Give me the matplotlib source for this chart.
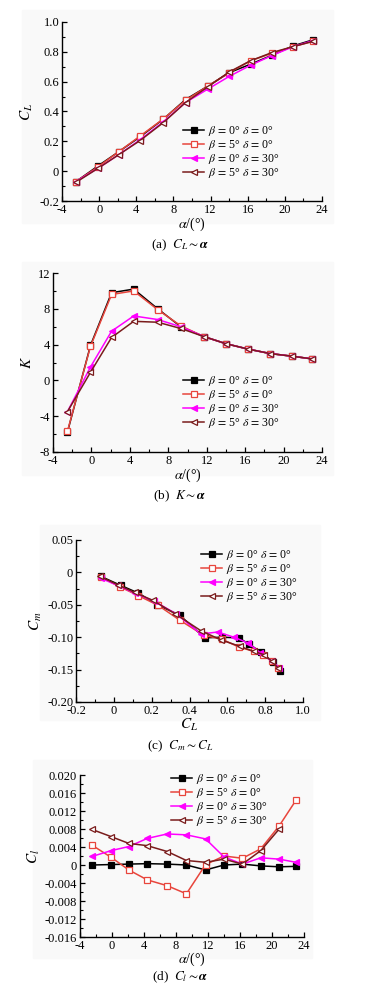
import matplotlib
matplotlib.use('Agg')
import matplotlib.pyplot as plt
from matplotlib.ticker import MultipleLocator, FuncFormatter
from matplotlib.patches import Rectangle
import numpy as np

plt.rcParams['font.family'] = ['Liberation Serif', 'DejaVu Serif']
plt.rcParams['mathtext.fontset'] = 'stix'
plt.rcParams['font.size'] = 9

# angle of attack (deg)
alpha = [-2.5, -0.1, 2.1, 4.4, 6.9, 9.3, 11.7, 14.0, 16.3, 18.6, 20.9, 23.0]

labels = [r'$\beta\,=\,$0° $\delta\,=\,$0°', r'$\beta\,=\,$5° $\delta\,=\,$0°',
          r'$\beta\,=\,$0° $\delta\,=\,$30°', r'$\beta\,=\,$5° $\delta\,=\,$30°']

# lift coefficient
cl_b0d0 = [-0.07, 0.036, 0.13, 0.23, 0.348, 0.48, 0.57, 0.66, 0.717, 0.777, 0.84, 0.88]
cl_b5d0 = [-0.07, 0.03, 0.13, 0.235, 0.35, 0.475, 0.57, 0.66, 0.74, 0.79, 0.835, 0.87]
cl_b0d30 = [-0.07, 0.02, 0.11, 0.21, 0.33, 0.46, 0.55, 0.635, 0.71, 0.775, 0.835, 0.875]
cl_b5d30 = [-0.075, 0.02, 0.11, 0.205, 0.325, 0.46, 0.565, 0.665, 0.74, 0.795, 0.835, 0.87]

# lift-drag ratio
k_b0d0 = [-5.8, 3.9, 9.8, 10.2, 8.0, 6.0, 4.9, 4.1, 3.5, 3.0, 2.7, 2.4]
k_b5d0 = [-5.7, 3.8, 9.6, 10.0, 7.9, 6.1, 4.9, 4.1, 3.5, 3.0, 2.7, 2.4]
k_b0d30 = [-3.5, 1.5, 5.5, 7.2, 6.8, 6.0, 4.9, 4.1, 3.5, 3.0, 2.7, 2.4]
k_b5d30 = [-3.5, 0.9, 4.8, 6.6, 6.5, 5.8, 4.9, 4.1, 3.5, 3.0, 2.7, 2.4]

# pitching moment
cm_b0d0 = [-0.006, -0.020, -0.032, -0.050, -0.066, -0.101, -0.100, -0.101, -0.111, -0.123, -0.138, -0.152]
cm_b5d0 = [-0.007, -0.022, -0.036, -0.051, -0.074, -0.097, -0.103, -0.115, -0.122, -0.128, -0.137, -0.148]
cm_b0d30 = [-0.009, -0.020, -0.032, -0.044, -0.064, -0.095, -0.092, -0.100, -0.109, -0.124, -0.137, -0.147]
cm_b5d30 = [-0.006, -0.019, -0.031, -0.043, -0.064, -0.090, -0.104, -0.114, -0.122, -0.127, -0.137, -0.148]

# rolling moment
roll_b0d0 = [0.0, 0.0001, 0.0002, 0.0003, 0.0002, 0.0, -0.0011, 0.0, 0.0002, -0.0002, -0.0004, -0.0003]
roll_b5d0 = [0.0044, 0.0017, -0.0011, -0.0033, -0.0046, -0.0064, 0.0001, 0.0020, 0.0015, 0.0036, 0.0087, 0.0144]
roll_b0d30 = [0.0019, 0.0032, 0.0041, 0.0059, 0.0069, 0.0067, 0.0058, 0.0018, 0.0002, 0.0016, 0.0013, 0.0006]
roll_b5d30 = [0.0079, 0.0063, 0.0048, 0.0043, 0.0030, 0.0010, 0.0006, 0.0013, 0.0002, 0.0032, 0.0080, np.nan]

styles = [
    dict(color='black', marker='s', mfc='black'),
    dict(color='#e8453c', marker='s', mfc='white'),
    dict(color='#ff00ff', marker='<', mfc='#ff00ff'),
    dict(color='#7a1c1c', marker='<', mfc='white'),
]


def fmt(dec):
    def f(v, pos):
        if abs(v) < 1e-9:
            return '0'
        return f'{v:.{dec}f}'
    return FuncFormatter(f)


def style_axes(ax, xmaj, xmin, ymaj, ymin, xdec, ydec):
    for s in ['top', 'right']:
        ax.spines[s].set_visible(False)
    for s in ['left', 'bottom']:
        ax.spines[s].set_linewidth(1.0)
    ax.set_facecolor('none')
    ax.xaxis.set_major_locator(MultipleLocator(xmaj))
    ax.xaxis.set_minor_locator(MultipleLocator(xmin))
    ax.yaxis.set_major_locator(MultipleLocator(ymaj))
    ax.yaxis.set_minor_locator(MultipleLocator(ymin))
    ax.xaxis.set_major_formatter(fmt(xdec))
    ax.yaxis.set_major_formatter(fmt(ydec))
    ax.tick_params(which='major', direction='in', length=3.5, width=0.9, labelsize=9, pad=2)
    ax.tick_params(which='minor', direction='in', length=2, width=0.8)


def draw(ax, xs, ys, leg_xy):
    for x, y, lab, st in zip(xs, ys, labels, styles):
        ax.plot(x, y, lw=1.1, ms=3.8, mew=0.9, mec=st['color'], label=lab,
                color=st['color'], marker=st['marker'], mfc=st['mfc'], clip_on=False)
    ax.legend(loc='upper left', bbox_to_anchor=leg_xy, bbox_transform=fig.transFigure,
              frameon=False, fontsize=8.5, handlelength=1.8, handletextpad=0.3,
              labelspacing=0.0, borderpad=0, borderaxespad=0)


W, H = 366, 994
fig = plt.figure(figsize=(W / 100, H / 100), dpi=100)


def px_axes(left, right, top, bottom):
    return fig.add_axes([left / W, 1 - bottom / H, (right - left) / W, (bottom - top) / H])


def fx(x, y):
    return (x / W, 1 - y / H)


# faint gray backgrounds of the scanned panels
for (l, t, r, b) in [(22, 10, 333, 223), (22, 262, 333, 475), (40, 525, 320, 720), (33, 760, 312, 958)]:
    fig.patches.append(Rectangle((l / W, 1 - b / H), (r - l) / W, (b - t) / H,
                                 transform=fig.transFigure, color='#f9f9f9', zorder=-10))

# (a) CL ~ alpha
ax1 = px_axes(62, 322, 22, 201)
draw(ax1, [alpha] * 4, [cl_b0d0, cl_b5d0, cl_b0d30, cl_b5d30], fx(183, 124))
ax1.set_xlim(-4, 24)
ax1.set_ylim(-0.2, 1.0)
style_axes(ax1, 4, 2, 0.2, 0.1, 0, 1)
ax1.set_ylabel(r'$C_L$', fontsize=11, labelpad=3)
ax1.set_xlabel(r'$\alpha$/(°)', fontsize=10, labelpad=0)
fig.text(180 / W, 1 - 245 / H, r'(a)  $C_L\sim\boldsymbol{\alpha}$', ha='center', va='center', fontsize=9.5)

# (b) K ~ alpha
ax2 = px_axes(53, 322, 273, 452)
draw(ax2, [alpha] * 4, [k_b0d0, k_b5d0, k_b0d30, k_b5d30], fx(183, 374))
ax2.set_xlim(-4, 24)
ax2.set_ylim(-8, 12)
style_axes(ax2, 4, 2, 4, 2, 0, 0)
ax2.set_ylabel(r'$K$', fontsize=11, labelpad=3)
ax2.set_xlabel(r'$\alpha$/(°)', fontsize=10, labelpad=0)
fig.text(180 / W, 1 - 496 / H, r'(b)  $K\sim\boldsymbol{\alpha}$', ha='center', va='center', fontsize=9.5)

# (c) Cm ~ CL
ax3 = px_axes(76, 303, 540, 702)
draw(ax3, [cl_b0d0, cl_b5d0, cl_b0d30, cl_b5d30], [cm_b0d0, cm_b5d0, cm_b0d30, cm_b5d30], fx(201, 548))
ax3.set_xlim(-0.2, 1.0)
ax3.set_ylim(-0.20, 0.05)
style_axes(ax3, 0.2, 0.1, 0.05, 0.025, 1, 2)
ax3.set_ylabel(r'$C_m$', fontsize=11, labelpad=2)
ax3.set_xlabel(r'$C_L$', fontsize=11, labelpad=0)
fig.text(180 / W, 1 - 746 / H, r'(c)  $C_m\sim C_L$', ha='center', va='center', fontsize=9.5)

# (d) Cl ~ alpha
ax4 = px_axes(80, 304, 775, 937)
draw(ax4, [alpha] * 4, [roll_b0d0, roll_b5d0, roll_b0d30, roll_b5d30], fx(171, 772))
ax4.set_xlim(-4, 24)
ax4.set_ylim(-0.016, 0.020)
style_axes(ax4, 4, 2, 0.004, 0.002, 0, 3)
ax4.set_ylabel(r'$C_l$', fontsize=11, labelpad=2)
ax4.set_xlabel(r'$\alpha$/(°)', fontsize=10, labelpad=-1)
fig.text(180 / W, 1 - 977 / H, r'(d)  $C_l\sim\boldsymbol{\alpha}$', ha='center', va='center', fontsize=9.5)

fig.savefig('out.png', dpi=100)
